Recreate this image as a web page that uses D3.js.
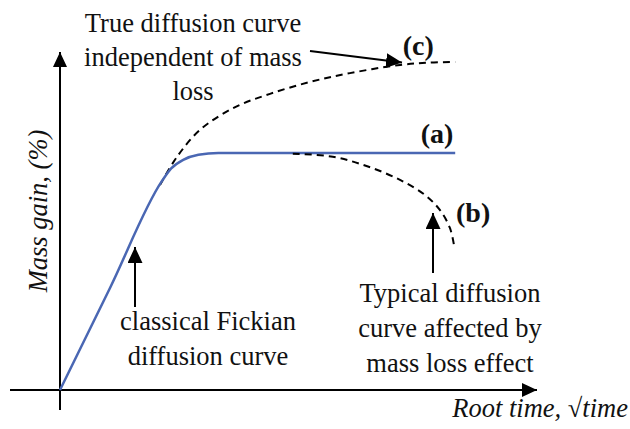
<!DOCTYPE html>
<html>
<head>
<meta charset="utf-8">
<script src="https://cdn.jsdelivr.net/npm/d3@7"></script>
<style>
  html, body { margin: 0; padding: 0; background: #fff; }
</style>
</head>
<body>
<div id="chart"></div>
<script>
// schematic curves, in arbitrary units (x = root time, y = mass gain)
const fickianCurve = [
    [0, 0], [12.5, 30], [25.5, 61.5], [27.8, 65.2], [30.8, 67.7],
    [34.6, 69.2], [39.6, 69.7], [98.8, 69.7]
]
const trueCurve = [
    [25, 60.3], [29.2, 68.5], [35, 76.5], [43.8, 83.2], [52.5, 87.1],
    [62.5, 90.6], [72.5, 93.2], [85, 95.6], [92.5, 96.3], [98.8, 96.5]
]
const lossCurve = [
    [58.2, 69.5], [68.2, 68.6], [76.8, 65.8], [85, 61.8], [91.2, 57.4],
    [95, 52.9], [97.5, 47.6], [98.5, 42.6]
]
const curveLabels = ['(a)', '(b)', '(c)']
const xLabel = 'Root time, \u221Atime'
const yLabel = 'Mass gain, (%)'
const noteTrue = ['True diffusion curve', 'independent of mass', 'loss']
const noteFick = ['classical Fickian', 'diffusion curve']
const noteLoss = ['Typical diffusion', 'curve affected by', 'mass loss effect']

const W = 630, H = 429
const FONT = '"Liberation Serif"'

const x = d3.scaleLinear().domain([0, 100]).range([60, 460])
const y = d3.scaleLinear().domain([0, 100]).range([390, 50])

const svg = d3.select('#chart').append('svg')
    .attr('width', W)
    .attr('height', H)

// arrow heads
const defs = svg.append('defs')
function addHead(id, len, half) {
    defs.append('marker')
        .attr('id', id)
        .attr('markerUnits', 'userSpaceOnUse')
        .attr('viewBox', `0 ${-half} ${len} ${2 * half}`)
        .attr('refX', len)
        .attr('refY', 0)
        .attr('markerWidth', len)
        .attr('markerHeight', 2 * half)
        .attr('orient', 'auto')
        .append('path')
        .attr('d', `M0,${-half}L${len},0L0,${half}Z`)
        .attr('fill', '#000')
}
addHead('axisHead', 15, 7)
addHead('noteHead', 16, 7.5)

// axes
svg.append('line')
    .attr('x1', 10).attr('y1', y(0))
    .attr('x2', 537).attr('y2', y(0))
    .attr('stroke', '#000').attr('stroke-width', 2)
    .attr('marker-end', 'url(#axisHead)')
svg.append('line')
    .attr('x1', x(0)).attr('y1', 410)
    .attr('x2', x(0)).attr('y2', 52)
    .attr('stroke', '#000').attr('stroke-width', 2)
    .attr('marker-end', 'url(#axisHead)')

const line = d3.line()
    .x(d => x(d[0]))
    .y(d => y(d[1]))
    .curve(d3.curveMonotoneX)

const smooth = d3.line()
    .x(d => x(d[0]))
    .y(d => y(d[1]))
    .curve(d3.curveCatmullRom.alpha(0.5))

svg.append('path')
    .datum(trueCurve)
    .attr('d', smooth)
    .attr('fill', 'none')
    .attr('stroke', '#000')
    .attr('stroke-width', 2)
    .attr('stroke-dasharray', '7,5')

svg.append('path')
    .datum(fickianCurve)
    .attr('d', line)
    .attr('fill', 'none')
    .attr('stroke', '#4a67b3')
    .attr('stroke-width', 2.5)

svg.append('path')
    .datum(lossCurve)
    .attr('d', smooth)
    .attr('fill', 'none')
    .attr('stroke', '#000')
    .attr('stroke-width', 2)
    .attr('stroke-dasharray', '7,5')

// curve labels (a) (b) (c)
const labelPos = [[90.2, 72.6], [99, 49.4], [85.7, 98.5]]
svg.selectAll('text.curve-label')
    .data(curveLabels)
    .join('text')
    .attr('class', 'curve-label')
    .attr('x', (d, i) => x(labelPos[i][0]))
    .attr('y', (d, i) => y(labelPos[i][1]))
    .style('font-family', FONT)
    .style('font-size', '28px')
    .style('font-weight', 'bold')
    .attr('fill', '#111')
    .text(d => d)

// multi-line notes
function note(lines, cx, cy, gap) {
    const t = svg.append('text')
        .attr('text-anchor', 'middle')
        .style('font-family', FONT)
        .style('font-size', '26.5px')
        .attr('fill', '#111')
    lines.forEach((s, i) => {
        t.append('tspan')
            .attr('x', cx)
            .attr('y', cy + i * gap)
            .text(s)
    })
}
note(noteTrue, 193, 32, 34)
note(noteFick, 208, 330, 35)
note(noteLoss, 450, 302, 35)

// note arrows
function arrow(x1, y1, x2, y2) {
    svg.append('line')
        .attr('x1', x1).attr('y1', y1)
        .attr('x2', x2).attr('y2', y2)
        .attr('stroke', '#000').attr('stroke-width', 2)
        .attr('marker-end', 'url(#noteHead)')
}
arrow(310, 51, x(85.5), y(96.3))
arrow(135, 307, 135, 247)
arrow(433, 273, 433, 213)

// axis titles
svg.append('text')
    .attr('x', 628)
    .attr('y', 417)
    .attr('text-anchor', 'end')
    .style('font-family', FONT)
    .style('font-size', '26.5px')
    .style('font-style', 'italic')
    .attr('fill', '#111')
    .text(xLabel)

svg.append('text')
    .attr('transform', 'translate(47,211) rotate(-90)')
    .attr('text-anchor', 'middle')
    .style('font-family', FONT)
    .style('font-size', '26.5px')
    .style('font-style', 'italic')
    .attr('fill', '#111')
    .text(yLabel)
</script>
</body>
</html>
